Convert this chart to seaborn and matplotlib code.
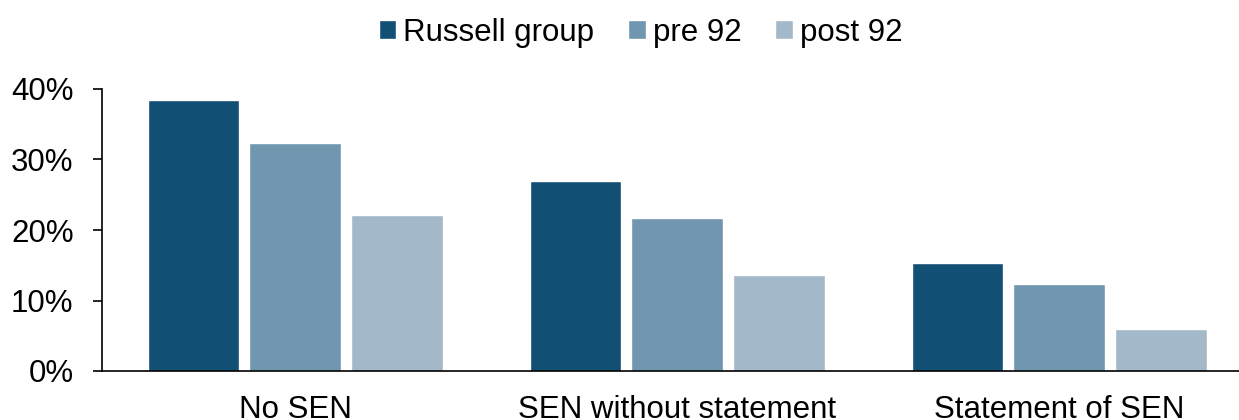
import matplotlib
matplotlib.use("Agg")
import matplotlib.pyplot as plt
import seaborn as sns
import pandas as pd

categories = ["No SEN", "SEN without statement", "Statement of SEN"]
groups = ["Russell group", "pre 92", "post 92"]
russell = [38.4, 27.0, 15.3]
pre92 = [32.3, 21.7, 12.3]
post92 = [22.1, 13.6, 5.9]
yticks = [0, 10, 20, 30, 40]
ytick_labels = ["0%", "10%", "20%", "30%", "40%"]
colors = ["#124F74", "#7196AF", "#A3B9C9"]

rows = []
for g, vals in zip(groups, [russell, pre92, post92]):
    for c, v in zip(categories, vals):
        rows.append({"category": c, "group": g, "value": v})
df = pd.DataFrame(rows)

sns.set_style("white")
plt.rcParams["font.family"] = ["Liberation Sans", "DejaVu Sans"]
plt.rcParams["text.color"] = "black"
plt.rcParams["xtick.color"] = "black"
plt.rcParams["ytick.color"] = "black"

fs = 22.5
fig = plt.figure(figsize=(12.39, 4.2), dpi=100)
ax = fig.add_axes([102 / 1239, 49 / 420, 1146 / 1239, 282 / 420])

sns.barplot(data=df, x="category", y="value", hue="group", order=categories,
            hue_order=groups, palette=colors, width=0.8, gap=0.1,
            saturation=1, ax=ax, legend=True)

ax.set_xlim(-0.506, 2.494)
ax.set_ylim(0, 40)
ax.set_yticks(yticks)
ax.set_yticklabels(ytick_labels)
ax.set_xlabel("")
ax.set_ylabel("")
for s in ["top", "right"]:
    ax.spines[s].set_visible(False)
for s in ["left", "bottom"]:
    ax.spines[s].set_color("black")
    ax.spines[s].set_linewidth(1.2)
ax.tick_params(axis="y", length=6.5, width=1.2, color="black", pad=14,
               labelsize=fs, left=True, labelcolor="black")
ax.tick_params(axis="x", length=0, pad=17, labelsize=fs, labelcolor="black")

handles, labels = ax.get_legend_handles_labels()
ax.get_legend().remove()
leg = fig.legend(handles, labels, loc="center", bbox_to_anchor=(0.517, 0.922),
                 ncol=3, frameon=False, fontsize=fs, handlelength=0.56,
                 handleheight=0.56, handletextpad=0.23, columnspacing=1.08)
for t in leg.get_texts():
    t.set_color("black")

fig.savefig("out.png", dpi=100)
